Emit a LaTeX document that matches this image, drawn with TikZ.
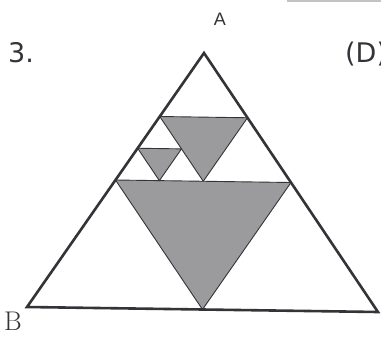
\documentclass[tikz,border=0pt]{standalone}
\usepackage{fontspec}
\newfontfamily\numfont{DejaVu Sans}
\newfontfamily\labfont{Liberation Sans}
\usetikzlibrary{calc}
\definecolor{edge}{HTML}{353238}
\definecolor{shade}{HTML}{9B9A9C}
\tikzset{
  outer/.style={draw=edge, line width=2.6pt, line join=miter},
  grayfill/.style={fill=shade, draw=edge, line width=0.9pt, line join=round},
  num/.style={anchor=base west, inner sep=0pt, text=edge, font=\numfont\fontsize{27}{30}\selectfont},
  lab/.style={inner sep=0pt, text=edge},
}
\begin{document}
\begin{tikzpicture}[x=1pt, y=-1pt]
\useasboundingbox (0,0) rectangle (381,338);
\fill[white] (0,0) rectangle (381,338);
\draw[shade!60, line width=1.5pt] (287,0.75) -- (381,0.75);
% main vertices
\coordinate (A) at (204,53);
\coordinate (B) at (27,307);
\coordinate (C) at (378,312);
% medial triangle
\coordinate (mAB) at ($(A)!0.5!(B)$);
\coordinate (mAC) at ($(A)!0.5!(C)$);
\coordinate (mBC) at ($(B)!0.5!(C)$);
% second level (top sub-triangle)
\coordinate (p1) at ($(A)!0.5!(mAB)$);
\coordinate (p2) at ($(A)!0.5!(mAC)$);
\coordinate (p3) at ($(mAB)!0.5!(mAC)$);
% third level (lower-left of top sub-triangle)
\coordinate (q1) at ($(p1)!0.5!(mAB)$);
\coordinate (q2) at ($(p1)!0.5!(p3)$);
\coordinate (q3) at ($(mAB)!0.5!(p3)$);
% gray triangles
\filldraw[grayfill] (mAB) -- (mAC) -- (mBC) -- cycle;
\filldraw[grayfill] (p1) -- (p2) -- (p3) -- cycle;
\filldraw[grayfill] (q1) -- (q2) -- (q3) -- cycle;
% outer triangle
\draw[outer] (A) -- (B) -- (C) -- cycle;
% labels
\node[lab, anchor=base, font=\labfont\fontsize{18}{20}\selectfont] (lA) at (220,25) {A};
\node[lab, anchor=base west, font=\fontsize{27}{30}\selectfont] (lB) at (4,330) {B};
\node[num] (n3) at (8,62) {3.};
\node[num] (nD) at (345,62) {(D)};
\end{tikzpicture}
\end{document}
